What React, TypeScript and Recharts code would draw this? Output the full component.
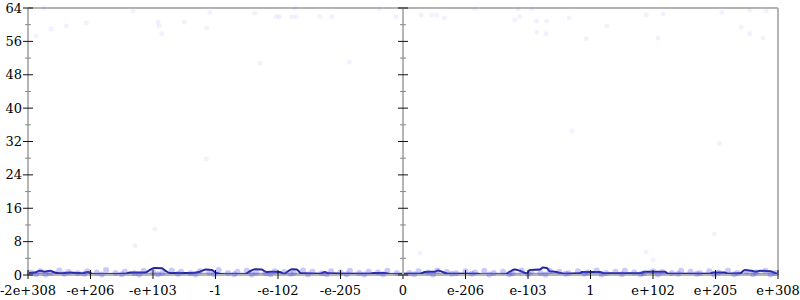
import React from "react";
import { ComposedChart, XAxis, YAxis, Line, Scatter, ReferenceLine } from "recharts";

// y ticks every 4, labels every 8
const yTicks = [0, 4, 8, 12, 16, 20, 24, 28, 32, 36, 40, 44, 48, 52, 56, 60, 64];

// x positions are "decades" on a symmetric log-ish scale, -6..6
const leftTickValues = [-6, -5, -4, -3, -2, -1, 0];
const leftTickLabels = ["-2e+308", "-e+206", "-e+103", "-1", "-e-102", "-e-205", "0"];
const rightTickValues = [1, 2, 3, 4, 5, 6];
const rightTickLabels = ["e-206", "e-103", "1", "e+102", "e+205", "e+308"];

// dark summary line
const leftLine = [
  [-6.0, 0.5], [-5.89, 0.6], [-5.81, 1.0], [-5.73, 0.8], [-5.65, 1.0], [-5.57, 0.6],
  [-5.49, 0.4], [-5.33, 0.6], [-5.2, 0.5], [-5.14, 0.4], [-5.04, 0.7], [-4.96, 0.2],
  [-4.69, 0.2], [-4.45, 0.3], [-4.37, 0.6], [-4.13, 0.6], [-4.05, 1.2], [-3.97, 1.7],
  [-3.86, 1.6], [-3.79, 0.9], [-3.73, 0.5], [-3.41, 0.5], [-3.25, 0.8], [-3.15, 1.3],
  [-3.06, 1.2], [-2.99, 0.5], [-2.85, 0.2], [-2.53, 0.2], [-2.45, 0.9], [-2.37, 1.4],
  [-2.26, 1.3], [-2.19, 0.7], [-2.05, 0.8], [-1.97, 0.7], [-1.9, 0.3], [-1.84, 0.9],
  [-1.78, 1.4], [-1.7, 1.3], [-1.63, 0.4], [-1.33, 0.3], [-1.25, 0.7], [-1.2, 0.4],
  [-0.93, 0.3], [-0.53, 0.3], [-0.45, 0.5], [-0.29, 0.5], [-0.21, 0.2], [0, 0.3],
];
const rightLine = [
  [0, 0.3], [0.27, 0.3], [0.35, 0.7], [0.51, 0.8], [0.56, 1.1], [0.62, 0.8], [0.72, 0.3],
  [0.99, 0.3], [1.2, 0.3], [1.26, 0.1], [1.63, 0.2], [1.71, 0.8], [1.79, 1.3], [1.87, 1.0],
  [1.98, 0.4], [2.03, 1.2], [2.19, 1.3], [2.24, 1.8], [2.3, 1.7], [2.35, 0.9], [2.43, 0.8],
  [2.59, 0.3], [2.83, 0.4], [2.86, 0.7], [3.15, 0.7], [3.23, 0.4], [3.79, 0.4], [3.87, 0.8],
  [4.19, 0.8], [4.24, 0.3], [4.91, 0.3], [4.96, 0.6], [5.15, 0.6], [5.2, 0.3], [5.39, 0.4],
  [5.47, 1.2], [5.58, 1.0], [5.65, 0.8], [5.71, 1.0], [5.87, 0.9], [5.95, 0.5], [6.0, 0.2],
];

// faint individual samples
const leftDots = [
  [-5.87, 57.3], [-5.74, 64], [-5.63, 59], [-5.39, 59.7], [-5.07, 60.4], [-4.32, 63.3],
  [-3.92, 60.6], [-3.9, 59.7], [-3.86, 57.8], [-3.5, 60.6], [-3.14, 59.2], [-3.09, 63],
  [-2.37, 62.8], [-2.29, 50.8], [-2.03, 61.9], [-1.98, 61.9], [-1.78, 61.9], [-1.71, 61.9],
  [-1.73, 64], [-1.33, 61.9], [-1.14, 61.9], [-0.86, 51], [-0.38, 63.8], [-0.11, 61.9],
  [-3.15, 27.8], [-3.97, 11], [-4.29, 7],
];
const rightDots = [
  [0.29, 62.3], [0.46, 62.3], [0.54, 62.3], [0.66, 61.6], [1.15, 63.8], [1.84, 63.8],
  [2.06, 63.8], [1.79, 61.1], [1.87, 61.9], [2.14, 60.9], [2.3, 60.9], [2.66, 61.6],
  [2.14, 58.2], [2.29, 57.8], [2.93, 56.6], [3.26, 59.7], [3.89, 62.3], [4.16, 62.6],
  [4.08, 56.8], [5.1, 63], [5.41, 59.4], [5.55, 63.5], [5.55, 57.8], [5.76, 56.8],
  [5.81, 63.3], [2.7, 34.5], [5.06, 31.6], [4.98, 9.8], [0.27, 5.3], [3.89, 5.5], [4.0, 3.6],
];
// dense band of samples near zero
const leftBand = [
  [-5.95, 0.6], [-5.8, 0.9], [-5.65, 0.5], [-5.5, 1.1], [-5.35, 0.7], [-5.2, 0.4], [-5.05, 0.9],
  [-4.9, 0.6], [-4.75, 1.2], [-4.6, 0.5], [-4.45, 0.8], [-4.3, 0.4], [-4.15, 1.0], [-4.0, 0.7],
  [-3.85, 0.5], [-3.7, 1.1], [-3.55, 0.8], [-3.4, 0.4], [-3.25, 0.9], [-3.1, 0.6], [-2.95, 1.2],
  [-2.8, 0.5], [-2.65, 0.8], [-2.5, 1.0], [-2.35, 0.6], [-2.2, 0.4], [-2.05, 0.9], [-1.9, 0.7],
  [-1.75, 0.5], [-1.6, 1.1], [-1.45, 0.8], [-1.3, 0.4], [-1.15, 0.9], [-1.0, 0.6], [-0.85, 1.0],
  [-0.7, 0.5], [-0.55, 0.8], [-0.4, 0.6], [-0.25, 1.0], [-0.1, 0.5],
  [-5.87, 0.2], [-5.72, 0.1], [-5.42, 0.3], [-5.1, 0.3], [-4.82, 0.1], [-4.5, 0.2], [-4.22, 0.1],
  [-3.92, 0.2], [-3.6, 0.3], [-3.32, 0.1], [-3.02, 0.2], [-2.7, 0.2], [-2.42, 0.1], [-2.12, 0.2],
  [-1.8, 0.3], [-1.52, 0.1], [-1.22, 0.2], [-0.9, 0.2], [-0.62, 0.1], [-0.32, 0.2],
];
const rightBand = [
  [0.1, 0.5], [0.25, 0.9], [0.4, 0.6], [0.55, 1.1], [0.7, 0.7], [0.85, 0.4], [1.0, 0.9],
  [1.15, 0.6], [1.3, 1.0], [1.45, 0.5], [1.6, 0.8], [1.75, 0.4], [1.9, 1.1], [2.05, 0.7],
  [2.2, 0.5], [2.35, 1.0], [2.5, 0.8], [2.65, 0.4], [2.8, 0.9], [2.95, 0.6], [3.1, 1.1],
  [3.25, 0.5], [3.4, 0.8], [3.55, 1.0], [3.7, 0.6], [3.85, 0.4], [4.0, 0.9], [4.15, 0.7],
  [4.3, 0.5], [4.45, 1.0], [4.6, 0.8], [4.75, 0.4], [4.9, 0.9], [5.05, 0.6], [5.2, 1.0],
  [5.35, 0.5], [5.5, 0.8], [5.65, 0.6], [5.8, 1.0], [5.95, 0.5],
  [0.18, 0.2], [0.48, 0.1], [0.78, 0.3], [1.1, 0.3], [1.38, 0.1], [1.7, 0.2], [2.0, 0.2],
  [2.28, 0.1], [2.6, 0.3], [2.9, 0.3], [3.18, 0.1], [3.5, 0.2], [3.8, 0.2], [4.08, 0.1],
  [4.4, 0.3], [4.7, 0.3], [4.98, 0.1], [5.3, 0.2], [5.6, 0.2], [5.88, 0.1],
];

const toPts = (rows: number[][]) => rows.map(([x, y]) => ({ x, y }));

const AXIS_GREY = "#b5b5b5";
const FONT = "DejaVu Serif, serif";

function YTick(props: any) {
  const { x, y, payload, showLabel } = props;
  const v = payload.value;
  const major = v % 8 === 0;
  return (
    <g>
      <line
        x1={x - (major ? 5 : 3)}
        x2={x + (major ? 5 : 3)}
        y1={y}
        y2={y}
        stroke={major ? "#111" : "#888"}
        strokeWidth={1}
      />
      {showLabel && major ? (
        <text x={x - 6} y={y} dy="0.35em" textAnchor="end" fontSize={13} fontFamily={FONT} fill="#000">
          {v}
        </text>
      ) : null}
    </g>
  );
}

function XTick(props: any) {
  const { x, y, payload, values, labels } = props;
  const i = values.indexOf(payload.value);
  return (
    <g>
      <line x1={x} x2={x} y1={y - 5} y2={y + 4} stroke="#111" strokeWidth={1} />
      <text x={x} y={y + 20} textAnchor="middle" fontSize={13} fontFamily={FONT} fill="#000">
        {labels[i]}
      </text>
    </g>
  );
}

const dotShape = (fill: string, r: number) => (p: any) => <circle cx={p.cx} cy={p.cy} r={r} fill={fill} />;

function Panel({
  width,
  leftW,
  rightW,
  domain,
  ticks,
  labels,
  line,
  dots,
  band,
  showLabels,
}: any) {
  return (
    <ComposedChart width={width} height={300} margin={{ top: 8, right: 0, bottom: 0, left: 0 }}>
      <XAxis
        type="number"
        dataKey="x"
        domain={domain}
        ticks={ticks}
        interval={0}
        height={25}
        tickSize={0}
        tickMargin={0}
        axisLine={{ stroke: AXIS_GREY, strokeWidth: 2 }}
        tickLine={false}
        tick={<XTick values={ticks} labels={labels} />}
        allowDataOverflow
      />
      <YAxis
        yAxisId="l"
        orientation="left"
        width={leftW}
        domain={[0, 64]}
        ticks={yTicks}
        interval={0}
        tickSize={0}
        tickMargin={0}
        axisLine={{ stroke: AXIS_GREY, strokeWidth: 2 }}
        tickLine={false}
        tick={<YTick showLabel={showLabels} />}
      />
      <YAxis
        yAxisId="r"
        orientation="right"
        width={rightW}
        domain={[0, 64]}
        ticks={yTicks}
        interval={0}
        tickSize={0}
        tickMargin={0}
        axisLine={{ stroke: AXIS_GREY, strokeWidth: 2 }}
        tickLine={false}
        tick={<YTick showLabel={false} />}
      />
      <ReferenceLine yAxisId="l" y={64} stroke={AXIS_GREY} strokeWidth={2} />
      <Scatter
        yAxisId="l"
        data={toPts(dots)}
        dataKey="y"
        shape={dotShape("rgba(70,70,255,0.07)", 2.5)}
        isAnimationActive={false}
      />
      <Scatter
        yAxisId="l"
        data={toPts(band)}
        dataKey="y"
        shape={dotShape("rgba(80,80,240,0.3)", 3)}
        isAnimationActive={false}
      />
      <ReferenceLine yAxisId="l" y={0.15} stroke="rgba(60,60,220,0.55)" strokeWidth={3} />
      <Line
        yAxisId="l"
        data={toPts(line)}
        dataKey="y"
        type="monotone"
        stroke="#24249a"
        strokeWidth={2}
        dot={false}
        activeDot={false}
        isAnimationActive={false}
      />
    </ComposedChart>
  );
}

export default function App() {
  return (
    <div style={{ position: "absolute", left: 0, top: 0, width: 800, height: 300, background: "#fff" }}>
      <div style={{ position: "absolute", left: 0, top: 0 }}>
        <Panel
          width={410}
          leftW={28}
          rightW={7}
          domain={[-6, 0]}
          ticks={leftTickValues}
          labels={leftTickLabels}
          line={leftLine}
          dots={leftDots}
          band={leftBand}
          showLabels
        />
      </div>
      <div style={{ position: "absolute", left: 396, top: 0 }}>
        <Panel
          width={404}
          leftW={7}
          rightW={22}
          domain={[0, 6]}
          ticks={rightTickValues}
          labels={rightTickLabels}
          line={rightLine}
          dots={rightDots}
          band={rightBand}
          showLabels={false}
        />
      </div>
    </div>
  );
}
